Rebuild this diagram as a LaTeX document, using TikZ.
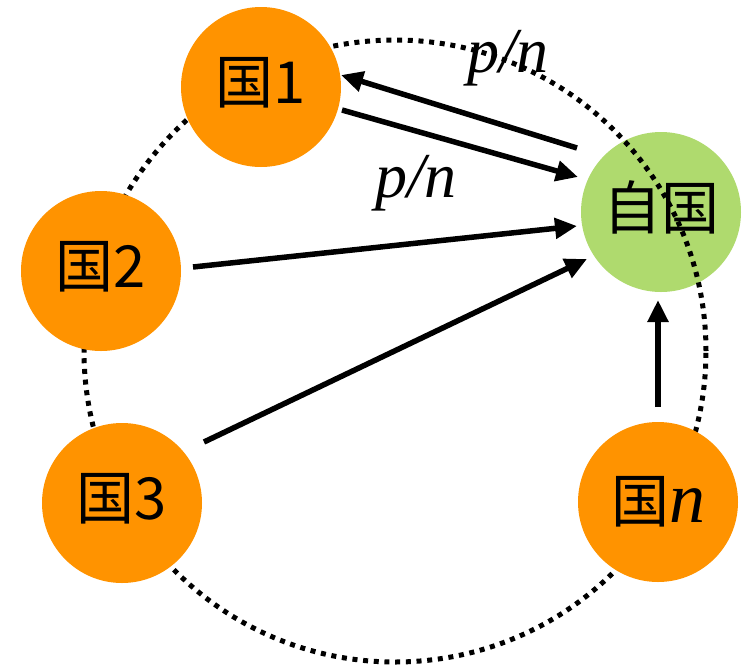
\documentclass[tikz,border=0pt]{standalone}
\usepackage{fontspec}
\newfontfamily\cjk{Noto Sans CJK JP}
\newfontfamily\tms{Liberation Serif}
\usetikzlibrary{arrows.meta,calc}
\definecolor{nation}{HTML}{FF9300}
\definecolor{homeland}{HTML}{AFDA6E}
\newcommand{\lift}[2]{\raisebox{#1}{#2}}
\tikzset{
  country/.style={circle,fill=nation,minimum size=160pt,inner sep=0pt,
    font=\cjk\fontsize{58}{60}\selectfont},
  homebox/.style={country,fill=homeland},
  ring/.style={line width=5pt,dash pattern=on 5pt off 5.7pt},
  flow/.style={line width=5.5pt,-{Triangle[length=22pt,width=20pt]}},
  rate/.style={font=\tms\itshape\fontsize{64}{66}\selectfont,inner sep=0pt},
}
\begin{document}
\begin{tikzpicture}[x=1pt,y=-1pt]
\useasboundingbox (0,0) rectangle (753,665);
% home country sits under the dotted ring
\node[homebox] (home) at (661,212) {\lift{14pt}{自国}};
\node[circle,minimum size=622pt,inner sep=0pt] (orbit) at (395,351) {};
\draw[ring] (orbit) circle[radius=311pt];
% the other countries sit on top of the ring
\node[country] (c1) at (261,87) {\lift{14pt}{国1}};
\node[country] (c2) at (101,271) {\lift{14pt}{国2}};
\node[country] (c3) at (122,503) {\lift{14pt}{国3}};
\node[country] (cn) at (658,502) {\lift{-3pt}{国{\tms\itshape\fontsize{72}{74}\selectfont n}}};
% trade flows
\draw[flow] ($(home)+(-84,-64)$) -- ($(c1)+(80,-12)$);
\draw[flow] ($(c1)+(81,23)$) -- ($(home)+(-83,-35)$);
\draw[flow] ($(c2)+(92,-4)$) -- ($(home)+(-84,14)$);
\draw[flow] ($(c3)+(82,-61)$) -- ($(home)+(-74,47)$);
\draw[flow] ($(cn)+(0,-95)$) -- ($(home)+(-3,88)$);
% shares
\node[rate] (r1) at (508,58) {p/n};
\node[rate] (r2) at (416,183) {p/n};
\end{tikzpicture}
\end{document}
